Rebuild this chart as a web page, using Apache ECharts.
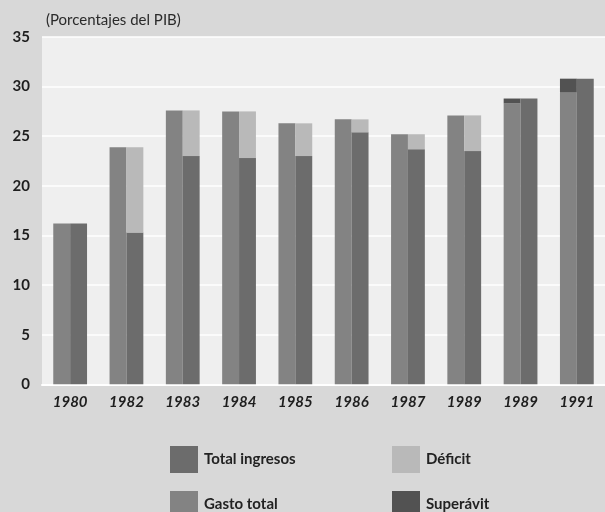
<!DOCTYPE html>
<html>
<head>
<meta charset="utf-8">
<script src="https://cdn.jsdelivr.net/npm/echarts@6/dist/echarts.min.js"></script>
<style>
html,body{margin:0;padding:0;background:#d8d8d8;}
#c{width:605px;height:512px;}
</style>
</head>
<body>
<div id="c"></div>
<script>
var categories = ['1980','1982','1983','1984','1985','1986','1987','1989','1989 ','1991'];
var gastoTotal = [16.2, 23.9, 27.6, 27.5, 26.3, 26.7, 25.2, 27.1, 28.3, 29.4];
var superavit  = [0, 0, 0, 0, 0, 0, 0, 0, 0.5, 1.4];
var totalIngresos = [16.2, 15.3, 23.0, 22.8, 23.0, 25.4, 23.7, 23.5, 28.8, 30.8];
var deficit    = [0, 8.6, 4.6, 4.7, 3.3, 1.3, 1.5, 3.6, 0, 0];
var yTicks = [0, 5, 10, 15, 20, 25, 30, 35];

var C_GASTO = '#838383', C_ING = '#6c6c6c', C_DEF = '#b9b9b9', C_SUP = '#525252';
var FONT = 'Lato';

function legendAt(name, left, top) {
  return {
    data: [name], left: left, top: top, orient: 'horizontal',
    itemWidth: 28, itemHeight: 27, itemGap: 0,
    icon: 'rect',
    textStyle: {fontFamily: FONT, fontWeight: 'bold', fontSize: 15, color: '#222', padding: [0,0,0,1]},
    selectedMode: false
  };
}

var chart = echarts.init(document.getElementById('c'), null, {renderer: 'canvas'});
chart.setOption({
  backgroundColor: '#d8d8d8',
  animation: false,
  title: {
    text: '(Porcentajes del PIB)', left: 41, top: 8,
    textStyle: {fontFamily: FONT, fontWeight: 'normal', fontSize: 15, color: '#2a2a2a'}
  },
  legend: [
    legendAt('Total ingresos', 165, 441),
    legendAt('Déficit', 387, 441),
    legendAt('Gasto total', 165, 486),
    legendAt('Superávit', 387, 486)
  ],
  grid: {
    left: 42, right: 0, top: 37, bottom: 127.7,
    show: true, backgroundColor: '#efefef', borderWidth: 0
  },
  xAxis: {
    type: 'category', data: categories,
    axisLine: {show: true, lineStyle: {color: '#ffffff', width: 2}},
    axisTick: {show: false},
    axisLabel: {fontFamily: FONT, fontWeight: 'bold', fontStyle: 'italic', fontSize: 15, color: '#1e1e1e', margin: 10,
      formatter: function(v){ return v.trim(); }}
  },
  yAxis: {
    type: 'value', min: 0, max: 35, interval: 5,
    axisLine: {show: false}, axisTick: {show: false},
    axisLabel: {fontFamily: FONT, fontWeight: 'bold', fontSize: 15, color: '#1e1e1e', margin: 12,
      formatter: function(v){ return yTicks.indexOf(v) >= 0 ? String(v) : ''; }},
    splitLine: {show: true, lineStyle: {color: '#ffffff', width: 1.5}}
  },
  series: [
    {name: 'Gasto total', type: 'bar', stack: 'a', data: gastoTotal, itemStyle: {color: C_GASTO},
      barGap: '0%', barCategoryGap: '40%'},
    {name: 'Superávit', type: 'bar', stack: 'a', data: superavit, itemStyle: {color: C_SUP}},
    {name: 'Total ingresos', type: 'bar', stack: 'b', data: totalIngresos, itemStyle: {color: C_ING}},
    {name: 'Déficit', type: 'bar', stack: 'b', data: deficit, itemStyle: {color: C_DEF}}
  ]
});
</script>
</body>
</html>
